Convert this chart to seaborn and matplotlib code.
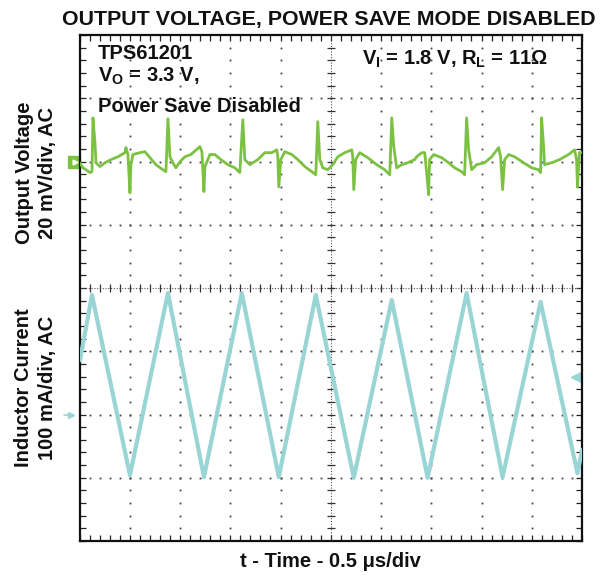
import numpy as np
import pandas as pd
import matplotlib
matplotlib.use("Agg")
import matplotlib.pyplot as plt
import seaborn as sns

# ---------------- data ----------------
# Output voltage, AC coupled (mV relative to channel ground marker), time in microseconds
t_v = [0.00, 0.035, 0.065, 0.104, 0.124, 0.134, 0.154, 0.164, 0.204, 0.253, 0.313, 0.383,
       0.452, 0.462, 0.482, 0.502, 0.512, 0.532, 0.601, 0.651, 0.760, 0.830, 0.860, 0.880,
       0.900, 0.929, 0.959, 0.999, 1.049, 1.108, 1.198, 1.218, 1.238, 1.248, 1.298, 1.347,
       1.407, 1.476, 1.546, 1.595, 1.625, 1.645, 1.695, 1.774, 1.844, 1.914, 1.963, 1.973,
       1.983, 2.003, 2.043, 2.113, 2.172, 2.242, 2.311, 2.351, 2.371, 2.391, 2.421, 2.470,
       2.520, 2.570, 2.639, 2.709, 2.719, 2.729, 2.748, 2.788, 2.868, 2.957, 3.037, 3.087,
       3.107, 3.127, 3.156, 3.206, 3.265, 3.335, 3.355, 3.405, 3.435, 3.454, 3.474, 3.484,
       3.524, 3.603, 3.673, 3.733, 3.802, 3.832, 3.852, 3.872, 3.902, 3.951, 4.031, 4.101,
       4.171, 4.190, 4.210, 4.230, 4.270, 4.330, 4.419, 4.499, 4.568, 4.588, 4.598, 4.618,
       4.628, 4.697, 4.777, 4.866, 4.926, 4.946, 4.955, 4.975, 5.000]
v_mv = [-0.4, -2.0, -2.6, -3.5, -3.2, 13.8, 5.9, -0.4, -1.6, -0.4, 0.6, 1.5,
        2.8, 4.4, 2.2, -9.9, -1.0, 2.2, 2.8, 3.1, -1.0, -2.6, -3.2, 13.5,
        1.5, -0.4, -2.0, -0.1, 1.5, 2.2, 4.7, 3.1, -9.5, -1.6, 2.2, 2.2,
        0.6, -1.0, -2.0, -3.5, 13.2, 0.6, -1.0, 0.6, 2.8, 2.8, 3.7, 1.5,
        -8.0, 0.6, 3.1, 2.2, 0.6, -1.6, -3.2, -4.2, 12.6, 0.6, -2.0, -2.6,
        -1.0, 1.5, 2.8, 3.7, 1.5, -8.9, 0.6, 2.8, 1.2, -1.0, -2.6, -4.2,
        13.8, 4.7, -2.0, -1.0, -0.4, 0.6, 1.5, 2.8, 2.8, -3.5, -10.5, 0.6,
        2.2, 1.2, -0.4, -2.0, -3.2, -4.2, 13.8, 3.7, -2.6, -1.0, -0.4, 1.5,
        4.4, 1.5, -8.9, 0.6, 2.2, 1.5, -0.4, -2.0, -2.6, -3.5, 13.8, 4.7,
        -1.0, -0.4, 0.6, 2.2, 3.7, 0.6, -8.0, 2.8, 2.8]

# Inductor current, AC coupled (mA relative to channel ground marker)
t_i = [0.005, 0.124, 0.502, 0.880, 1.238, 1.615, 1.983, 2.351, 2.729, 3.107,
       3.464, 3.852, 4.210, 4.588, 4.955, 5.000]
i_ma = [86, 189, -96, 192, -99, 192, -99, 189, -100, 181,
        -100, 192, -99, 178, -93, -56]

# channel settings
TIME_PER_DIV = 0.5   # us/div
MV_PER_DIV = 20      # mV/div
MA_PER_DIV = 100     # mA/div
V_GROUND_DIV = 2     # channel-1 ground marker position (divisions from centre)
I_GROUND_DIV = -2    # channel-2 ground marker position

title = "OUTPUT VOLTAGE, POWER SAVE MODE DISABLED"
ylab_v = ["Output Voltage", "20 mV/div, AC"]
ylab_i = ["Inductor Current", "100 mA/div, AC"]
xlab = "t - Time - 0.5 \u03bcs/div"

GREEN = "#7cc242"
CYAN = "#99d5d5"

# ---------------- style ----------------
sns.set_theme(style="white")
plt.rcParams["font.family"] = ["Liberation Sans", "DejaVu Sans"]
plt.rcParams["font.weight"] = "bold"
plt.rcParams["mathtext.fontset"] = "custom"
plt.rcParams["mathtext.rm"] = "Liberation Sans:bold"
plt.rcParams["mathtext.bf"] = "Liberation Sans:bold"
plt.rcParams["mathtext.it"] = "Liberation Sans:bold"

W, H = 609, 575
fig = plt.figure(figsize=(W / 100, H / 100), dpi=100)
fig.patch.set_facecolor("white")

L, R, T, B = 79.5, 582, 35, 541
rect = [L / W, 1 - B / H, (R - L) / W, (B - T) / H]

# graticule axes in divisions
ax = fig.add_axes(rect)
ax.set_xlim(0, 10)
ax.set_ylim(-4, 4)
ax.set_facecolor("white")
for s in ax.spines.values():
    s.set_color("#111111")
    s.set_linewidth(1.6)
ax.set_xticks(np.arange(0, 10.01, 1))
ax.set_yticks(np.arange(-4, 4.01, 1))
ax.set_xticks(np.arange(0, 10.01, 0.2), minor=True)
ax.set_yticks(np.arange(-4, 4.01, 0.2), minor=True)
ax.tick_params(which="both", direction="in", length=4, width=0.9, color="#222222",
               top=True, right=True, bottom=True, left=True,
               labelbottom=False, labelleft=False)
ax.grid(False)

dot_kw = dict(ls="none", marker="s", ms=1.3, color="#444444", mec="none")
xs = np.arange(0.2, 10, 0.2)
for yy in [-3, -2, -1, 1, 2, 3]:
    ax.plot(xs, np.full_like(xs, yy), **dot_kw)
ys = np.arange(-3.8, 4, 0.2)
for xx in [1, 2, 3, 4, 6, 7, 8, 9]:
    ax.plot(np.full_like(ys, xx), ys, **dot_kw)
# centre cross with fine ticks
ax.axhline(0, color="#555555", lw=0.8, ls=(0, (1, 1.5)))
ax.axvline(5, color="#555555", lw=0.8, ls=(0, (1, 1.5)))
ax.plot(xs, np.zeros_like(xs), ls="none", marker="|", ms=6, mew=0.9, color="#333333")
ax.plot(np.full_like(ys, 5), ys, ls="none", marker="_", ms=6, mew=0.9, color="#333333")

# channel markers
ax.plot([-0.11], [V_GROUND_DIV], marker="s", ms=9, color=GREEN, clip_on=False)
ax.plot([-0.09], [V_GROUND_DIV], marker=">", ms=3.5, color="white", clip_on=False)
ax.plot([-0.16], [I_GROUND_DIV], marker=">", ms=5, color=CYAN, clip_on=False)
ax.plot([-0.30, -0.16], [I_GROUND_DIV, I_GROUND_DIV], color=CYAN, lw=1.2, clip_on=False)
ax.plot([9.88], [-1.41], marker="<", ms=7, color=CYAN, clip_on=False)

# voltage channel axes
ax_v = fig.add_axes(rect)
ax_v.set_xlim(0, 10 * TIME_PER_DIV)
ax_v.set_ylim((-4 - V_GROUND_DIV) * MV_PER_DIV, (4 - V_GROUND_DIV) * MV_PER_DIV)
ax_v.patch.set_alpha(0)
ax_v.axis("off")
dfv = pd.DataFrame({"t": t_v, "v": v_mv})
sns.lineplot(data=dfv, x="t", y="v", ax=ax_v, color=GREEN, lw=2.0,
             estimator=None, sort=False, legend=False)

# current channel axes
ax_i = fig.add_axes(rect)
ax_i.set_xlim(0, 10 * TIME_PER_DIV)
ax_i.set_ylim((-4 - I_GROUND_DIV) * MA_PER_DIV, (4 - I_GROUND_DIV) * MA_PER_DIV)
ax_i.patch.set_alpha(0)
ax_i.axis("off")
dfi = pd.DataFrame({"t": t_i, "i": i_ma})
sns.lineplot(data=dfi, x="t", y="i", ax=ax_i, color=CYAN, lw=3.0,
             estimator=None, sort=False, legend=False)
ax_v.set_zorder(3)
ax_i.set_zorder(2)
ax.set_zorder(1)

# ---------------- text ----------------
def ftext(x, y, s, **kw):
    fig.text(x / W, 1 - y / H, s, fontweight="bold", color="#111111", **kw)

ftext(329, 25, title, fontsize=15.4, ha="center", va="baseline")
ftext(98, 59, "TPS61201", fontsize=14.5, ha="left", va="baseline")
ftext(98, 82, r"V$_\mathbf{O}$ = 3.3 V,", fontsize=14.5, ha="left", va="baseline")
ftext(98, 112, "Power Save Disabled", fontsize=14.5, ha="left", va="baseline")
ftext(362, 65, r"V$_\mathbf{I}$ = 1.8 V, R$_\mathbf{L}$ = 11" + "\u03a9", fontsize=14.5,
      ha="left", va="baseline")
ftext(24, 173, ylab_v[0], fontsize=14.5, rotation=90, ha="center", va="center")
ftext(47, 173, ylab_v[1], fontsize=14.5, rotation=90, ha="center", va="center")
ftext(24, 388, ylab_i[0], fontsize=14.5, rotation=90, ha="center", va="center")
ftext(47, 388, ylab_i[1], fontsize=14.5, rotation=90, ha="center", va="center")
ftext(330, 567, xlab, fontsize=14.5, ha="center", va="baseline")

fig.savefig("out.png", dpi=100, facecolor="white")
